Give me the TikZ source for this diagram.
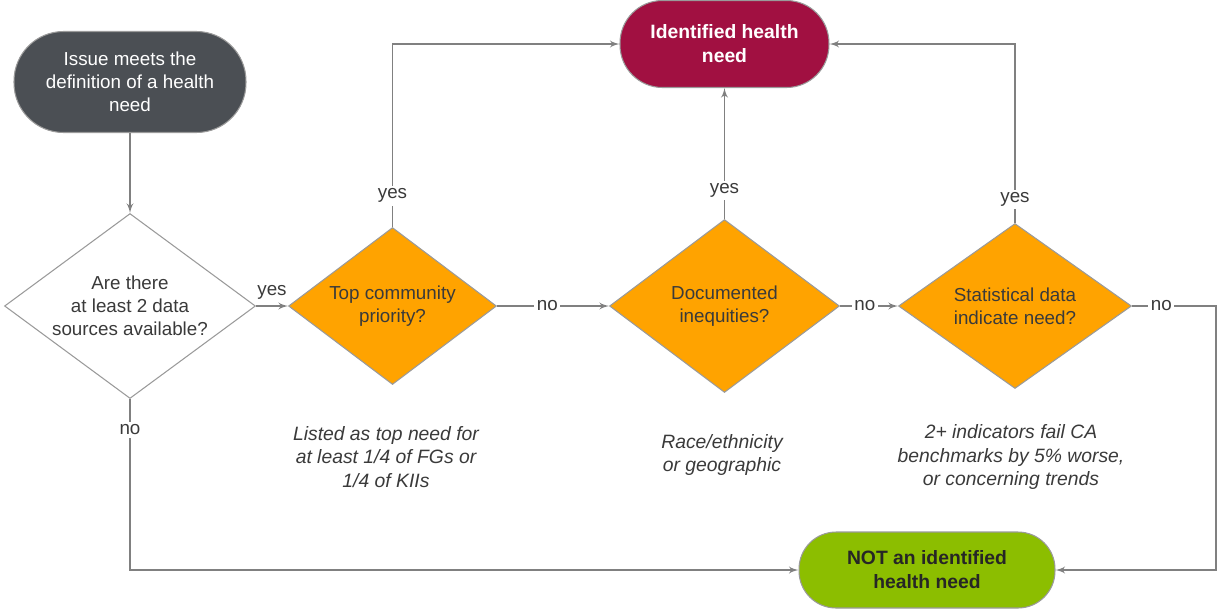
\documentclass[tikz,border=0pt]{standalone}
\usepackage{fontspec}
\setmainfont{Liberation Sans}
\usetikzlibrary{positioning}
\usetikzlibrary{arrows}
\usetikzlibrary{shapes.geometric}
\definecolor{pillgray}{HTML}{4B4F54}
\definecolor{crimson}{HTML}{A11041}
\definecolor{leafgreen}{HTML}{8CBE00}
\definecolor{decorange}{HTML}{FFA300}
\definecolor{linegray}{HTML}{808080}
\definecolor{bordergray}{HTML}{9A9A9A}
\definecolor{textgray}{HTML}{3A3A3A}
\tikzset{node distance=1cm,
  every node/.style={align=center,
    font=\fontsize{10.7}{13.2}\selectfont,
    text=textgray},
  decision/.style={ % question boxes
    diamond, aspect=1.35, inner sep=-6pt,
    draw=bordergray, line width=0.6pt,
    fill=decorange},
  terminal/.style={ % start and end pills
    rectangle, draw=bordergray, line width=0.6pt},
  note/.style={font=\fontsize{11}{13.5}\selectfont\itshape},
  lbl/.style={fill=white, inner sep=1.5pt},
  flow/.style={draw=linegray, line width=0.9pt, ->, >=latex'}}

\begin{document}
\begin{tikzpicture}[x=0.02cm, y=-0.02cm]
  \useasboundingbox (0,0) rectangle (1217,610);

  % the questions
  \node [decision, fill=white, minimum width=5.02cm, minimum height=3.70cm]
    (avail) at (130,306) {Are there\\ at least 2 data\\ sources available?};
  \node [decision, minimum width=4.16cm, minimum height=3.14cm,
    right=0.64cm of avail] (toppri) {Top community\\ priority?};
  \node [decision, minimum width=4.60cm, minimum height=3.46cm,
    right=2.24cm of toppri] (inequ) {Documented\\ inequities?};
  \node [decision, minimum width=4.66cm, minimum height=3.30cm,
    right=1.16cm of inequ] (stats) {Statistical data\\ indicate need?};

  % start and outcomes
  \node [terminal, fill=pillgray, text=white, rounded corners=0.99cm,
    minimum width=4.64cm, minimum height=2.02cm,
    above=1.6cm of avail] (issue) {Issue meets the\\ definition of a health\\ need};
  \node [terminal, fill=crimson, text=white, rounded corners=0.85cm,
    minimum width=4.18cm, minimum height=1.74cm,
    font=\fontsize{11}{13.6}\selectfont\bfseries,
    above=2.62cm of inequ] (isneed) {Identified health\\ need};
  \node [terminal, fill=leafgreen, text=black!85, rounded corners=0.74cm,
    minimum width=5.12cm, minimum height=1.52cm,
    font=\fontsize{11}{13.6}\selectfont\bfseries]
    (notneed) at (927,570) {NOT an identified\\ health need};

  % criteria under the questions
  \node [note] (toppritxt) at (386,457)
    {Listed as top need for\\ at least 1/4 of FGs or\\ 1/4 of KIIs};
  \node [note] (inequtxt) at (722,455) {Race/ethnicity\\ or geographic};
  \node [note] (statstxt) at (1011,457)
    {2+ indicators fail CA\\ benchmarks by 5\% worse,\\ or concerning trends};

  \coordinate [right=1.68cm of stats.east] (rturn);

  \draw [flow] (issue) -- (avail);
  \draw [flow] (avail) -- node [above] {yes} (toppri);
  \draw [flow] (avail.south) |- node [lbl, pos=0.09] {no} (notneed.west);
  \draw [flow] (toppri.north) |- node [lbl, pos=0.085] {yes} (isneed.west);
  \draw [flow] (toppri) -- node [lbl, pos=0.45] {no} (inequ);
  \draw [flow] (inequ) -- node [lbl, pos=0.22] {yes} (isneed);
  \draw [flow] (inequ) -- node [lbl, pos=0.43] {no} (stats);
  \draw [flow] (stats.north) |- node [lbl, pos=0.066] {yes} (isneed.east);
  \draw [flow] (stats.east) -- node [lbl, pos=0.35] {no} (rturn) |- (notneed.east);
\end{tikzpicture}
\end{document}
